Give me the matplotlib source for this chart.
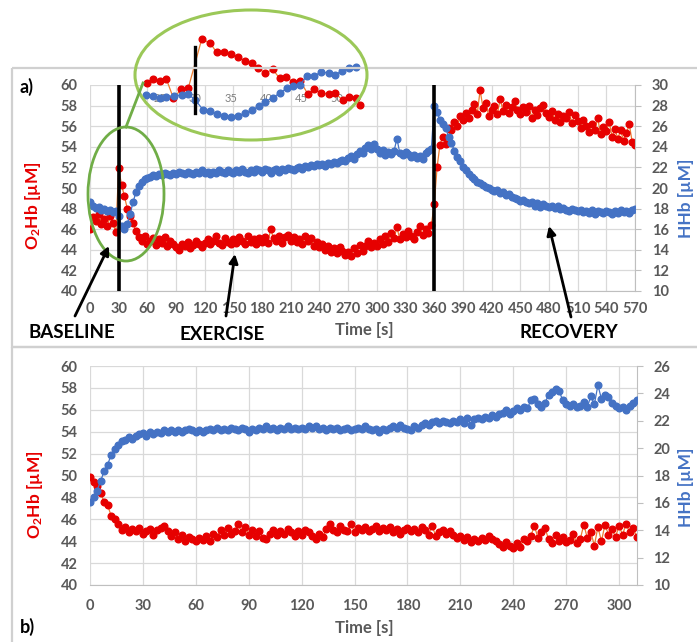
import numpy as np
import matplotlib
matplotlib.use('Agg')
import matplotlib.pyplot as plt
from matplotlib.patches import Ellipse, Rectangle
from matplotlib.lines import Line2D

plt.rcParams['font.family'] = ['Lato', 'DejaVu Sans']
plt.rcParams['font.weight'] = 'bold'
plt.rcParams['mathtext.fontset'] = 'custom'
plt.rcParams['mathtext.rm'] = 'Lato:bold'
plt.rcParams['mathtext.it'] = 'Lato:bold'
plt.rcParams['mathtext.bf'] = 'Lato:bold'
plt.rcParams['mathtext.default'] = 'rm'

# ---------------- data ----------------
# panel a: time every 3 s, 0..570
time_a = np.arange(0, 571, 3)
o2hb_a = [
    46.0, 47.2, 46.8, 47.5, 46.5, 47.0, 46.3, 47.3, 46.6, 45.7,
    51.9, 50.3, 49.2, 48.0, 47.3, 46.6, 45.8, 45.2, 44.9, 45.3,
    44.6, 44.9, 45.1, 44.5, 45.0, 44.7, 45.2, 44.4, 44.9, 44.6,
    44.3, 44.0, 44.6, 44.4, 44.8, 44.2, 44.5, 44.9, 44.6, 44.3,
    44.7, 45.0, 44.6, 44.9, 45.3, 44.7, 44.5, 45.1, 44.8, 44.6,
    45.0, 44.7, 45.2, 44.9, 44.6, 45.3, 44.8, 45.0, 44.6, 45.1,
    44.8, 45.2, 44.7, 46.0, 45.1, 44.9, 45.3, 44.7, 45.2, 45.4,
    44.9, 45.2, 44.8, 45.0, 44.6, 45.3, 44.9, 45.1, 44.4, 44.8,
    44.3, 44.6, 44.0, 44.4, 43.8, 44.2, 43.7, 44.3, 43.9, 43.5,
    43.8, 43.4, 44.2, 43.7, 44.5, 43.9, 44.4, 44.9, 44.3, 44.7,
    44.4, 45.0, 44.6, 45.3, 44.8, 45.6, 45.1, 46.2, 45.0, 45.5,
    45.2, 45.8, 45.3, 45.0, 45.7, 46.3, 45.4, 46.0, 45.6, 46.4,
    48.4, 52.0, 54.2, 55.0, 54.3, 55.8, 55.6, 56.4, 56.0, 57.0,
    56.6, 57.3, 56.8, 57.6, 58.2, 57.2, 59.5, 57.8, 58.3, 57.0,
    57.6, 58.0, 57.2, 58.6, 57.5, 58.1, 57.3, 57.9, 58.4, 57.6,
    57.2, 57.9, 57.4, 58.0, 56.8, 57.6, 57.1, 57.8, 58.1, 57.3,
    56.9, 57.5, 56.6, 57.2, 56.4, 57.0, 56.8, 57.4, 56.3, 57.1,
    56.5, 55.8, 56.6, 56.0, 55.4, 56.2, 55.6, 56.8, 55.2, 55.9,
    55.5, 56.4, 55.0, 55.7, 54.8, 55.6, 54.6, 55.3, 56.2, 54.5,
    54.2,
]
hhb_a = [
    18.6, 18.3, 18.1, 18.2, 17.9, 18.0, 17.8, 17.9, 17.7, 17.8,
    17.3, 16.3, 16.0, 16.5, 17.5, 18.6, 19.6, 20.2, 20.6, 20.9,
    21.0, 21.1, 21.3, 21.2, 21.4, 21.3, 21.5, 21.4, 21.3, 21.5,
    21.4, 21.6, 21.5, 21.4, 21.6, 21.5, 21.4, 21.6, 21.5, 21.7,
    21.5, 21.6, 21.4, 21.6, 21.5, 21.7, 21.6, 21.5, 21.7, 21.6,
    21.5, 21.7, 21.6, 21.8, 21.6, 21.5, 21.7, 21.6, 21.8, 21.7,
    21.6, 21.8, 21.7, 21.5, 21.7, 21.8, 21.6, 21.8, 21.7, 21.9,
    21.8, 21.7, 21.9, 22.0, 21.8, 22.1, 22.0, 22.2, 22.1, 22.3,
    22.2, 22.3, 22.1, 22.4, 22.3, 22.5, 22.4, 22.6, 22.7, 22.6,
    22.9, 23.1, 22.8, 23.3, 23.6, 23.4, 23.9, 24.2, 23.8, 24.3,
    23.8, 23.4, 23.7, 23.2, 23.5, 23.3, 23.6, 24.8, 23.4, 23.2,
    23.5, 23.3, 23.0, 23.2, 22.9, 23.1, 22.8, 23.4, 23.6, 23.8,
    28.0, 27.4, 26.6, 26.2, 25.8, 25.0, 24.4, 23.6, 23.0, 22.6,
    22.0, 21.7, 21.4, 21.1, 20.9, 20.6, 20.5, 20.3, 20.1, 20.0,
    19.8, 19.7, 19.8, 19.5, 19.6, 19.3, 19.4, 19.1, 19.0, 18.9,
    18.7, 18.8, 18.6, 18.5, 18.6, 18.3, 18.5, 18.2, 18.4, 18.3,
    18.2, 18.3, 18.1, 18.3, 18.0, 18.1, 17.9, 17.8, 18.0, 17.9,
    17.8, 17.9, 17.7, 17.8, 17.6, 17.9, 17.5, 17.8, 17.7, 17.6,
    17.8, 17.7, 17.5, 17.8, 17.6, 17.9, 17.7, 17.8, 17.6, 17.9,
    18.0,
]

# panel b: time every 2 s, 0..310
time_b = np.arange(0, 311, 2)
o2hb_b = [
    49.9, 49.4, 49.0, 48.4, 47.6, 47.3, 46.3, 46.0, 45.6, 45.0,
    45.3, 44.8, 45.1, 44.9, 45.2, 44.7, 44.9, 45.1, 44.6, 45.0,
    45.2, 45.4, 44.9, 44.5, 44.8, 44.2, 44.6, 44.0, 44.4, 44.2,
    44.0, 44.3, 44.1, 44.5, 44.0, 44.7, 44.4, 45.0, 44.6, 45.2,
    44.7, 44.9, 45.6, 44.8, 45.3, 44.6, 45.0, 44.5, 44.9, 44.3,
    44.2, 44.7, 45.0, 44.6, 44.9, 44.7, 45.1, 44.8, 44.5, 44.9,
    44.6, 45.0, 44.8, 44.5, 44.2, 44.7, 44.4, 45.1, 45.6, 45.0,
    44.8, 45.4, 45.0, 44.9, 45.6, 44.8, 45.2, 45.0, 45.3, 44.9,
    45.1, 45.4, 44.9, 45.2, 45.0, 45.3, 44.8, 45.1, 44.7, 45.0,
    45.2, 44.9, 45.1, 44.8, 45.3, 45.0, 44.6, 45.4, 44.5, 44.8,
    45.0, 44.7, 44.9, 44.6, 44.3, 44.5, 44.1, 44.4, 43.9, 44.2,
    44.0, 44.3, 44.1, 44.5, 44.2, 44.0, 43.7, 43.5, 43.9, 43.6,
    43.4, 43.8, 43.5, 44.2, 44.0, 44.5, 45.4, 44.3, 44.8, 45.2,
    44.2, 43.8, 44.6, 44.0, 44.4, 43.9, 44.1, 44.7, 43.8, 44.2,
    45.5, 44.3, 44.8, 43.6, 45.3, 44.0, 45.5, 44.6, 45.1, 44.4,
    45.4, 44.6, 45.6, 44.8, 45.2, 44.4,
]
hhb_b = [
    16.1, 16.4, 16.9, 17.6, 18.3, 18.8, 19.5, 19.9, 20.2, 20.5,
    20.6, 20.8, 20.7, 20.9, 21.0, 21.1, 20.9, 21.2, 21.0, 21.2,
    21.1, 21.3, 21.2, 21.3, 21.2, 21.3, 21.2, 21.3, 21.4, 21.3,
    21.2, 21.3, 21.2, 21.3, 21.4, 21.3, 21.5, 21.3, 21.4, 21.3,
    21.5, 21.4, 21.3, 21.5, 21.4, 21.2, 21.4, 21.3, 21.5, 21.4,
    21.6, 21.4, 21.5, 21.3, 21.5, 21.4, 21.6, 21.4, 21.5, 21.4,
    21.5, 21.4, 21.6, 21.5, 21.6, 21.4, 21.5, 21.3, 21.5, 21.4,
    21.5, 21.3, 21.4, 21.5, 21.3, 21.4, 21.5, 21.4, 21.6, 21.4,
    21.3, 21.4, 21.2, 21.4, 21.3, 21.5, 21.6, 21.5, 21.7, 21.5,
    21.4, 21.3, 21.6, 21.5, 21.7, 21.8, 21.7, 21.9, 22.0, 21.8,
    22.0, 21.9, 21.8, 22.0, 21.9, 22.1, 21.8, 22.2, 21.7, 22.1,
    22.2, 22.1, 22.3, 22.2, 22.4, 22.3, 22.5, 22.6, 22.8, 22.5,
    22.7, 22.9, 22.8, 23.0, 22.9, 23.5, 23.6, 23.2, 23.0, 23.3,
    23.9, 24.1, 24.3, 24.2, 23.5, 23.2, 23.1, 23.2, 23.0, 23.1,
    23.4, 23.0, 23.8, 23.2, 24.6, 23.6, 23.9, 23.7, 23.3, 23.1,
    22.9, 23.0, 22.8, 23.1, 23.3, 23.5,
]

# zoomed inset (25-52 s)
inset_t_red = [23.1, 24.0, 25.0, 25.9, 26.9, 28.0, 29.0, 30.9, 32.1, 33.0,
               34.0, 35.0, 36.0, 37.0, 38.0, 38.9, 39.9, 40.9, 41.9, 42.8,
               43.8, 44.8, 45.9, 46.8, 47.8, 48.8, 49.7, 50.8, 51.7, 52.7, 53.3]
inset_o2hb = [46.41, 46.88, 46.63, 46.88, 44.42, 45.57, 45.73, 52.0, 51.45, 50.30,
              50.30, 50.04, 49.74, 49.19, 48.89, 48.25, 47.61, 48.13, 46.97, 47.10,
              46.54, 46.63, 44.93, 45.57, 45.06, 44.97, 45.06, 44.20, 44.62, 44.42, 43.56]
inset_t_blue = [23.0, 24.0, 25.0, 25.9, 27.0, 28.1, 29.0, 30.0, 31.1, 32.1,
                33.0, 34.0, 35.0, 36.0, 37.0, 38.0, 39.0, 39.9, 40.9, 41.9,
                42.9, 43.8, 44.8, 45.7, 46.8, 47.8, 48.8, 49.7, 50.7, 51.7, 52.7]
inset_hhb = [18.0, 17.93, 17.69, 17.84, 17.90, 18.0, 18.07, 17.52, 16.57, 16.48,
             16.16, 16.03, 15.93, 16.03, 16.26, 16.57, 16.95, 17.36, 17.74, 18.16,
             18.64, 18.86, 18.95, 19.81, 19.81, 20.22, 20.07, 19.90, 20.31, 20.60, 20.70]
inset_ticks = [25, 30, 35, 40, 45, 50]

xticks_a = list(range(0, 571, 30))
xticks_b = list(range(0, 301, 30))
yticks_left = list(range(40, 61, 2))
yticks_right_a = list(range(10, 31, 2))
yticks_right_b = list(range(10, 27, 2))
event_times = [30, 360]

# ---------------- styling ----------------
RED = '#E60000'
ORANGE = '#ED7D31'
BLUE = '#4472C4'
GRID = '#D9D9D9'
TICK = '#595959'
MS = 4.8

W, H = 697, 642
fig = plt.figure(figsize=(W / 100, H / 100), dpi=100)
fig.patch.set_facecolor('white')


def rect(l, t, r, b):
    return [l / W, 1 - b / H, (r - l) / W, (b - t) / H]


def style(ax, ax2, xlim, xticks, yr, yrt, xpad):
    ax.set_xlim(*xlim)
    ax.set_ylim(40, 60)
    ax2.set_ylim(*yr)
    ax.set_xticks(xticks)
    ax.set_yticks(yticks_left)
    ax2.set_yticks(yrt)
    ax.grid(True, color=GRID, lw=0.9)
    ax.set_axisbelow(True)
    for s in ['top', 'left', 'right']:
        ax.spines[s].set_visible(False)
        ax2.spines[s if s != 'right' else 'bottom'].set_visible(False)
    ax.spines['bottom'].set_color('#BFBFBF')
    ax2.spines['right'].set_color('#BFBFBF')
    ax.tick_params(axis='both', length=0, labelsize=10.5, labelcolor=TICK)
    ax.tick_params(axis='x', pad=xpad)
    ax.tick_params(axis='y', pad=9)
    ax2.tick_params(axis='y', length=4, color='#BFBFBF', pad=8,
                    labelsize=10.5, labelcolor=TICK)


def plot_series(ax, ax2, t, red, blue):
    ax.plot(t, red, color=ORANGE, lw=0.9, marker='o', ms=MS,
            mfc=RED, mec=RED, zorder=3)
    ax2.plot(t, blue, color=BLUE, lw=0.9, marker='o', ms=MS,
             mfc=BLUE, mec=BLUE, zorder=3)


# panel a
axa = fig.add_axes(rect(90, 85, 635, 291))
axa2 = axa.twinx()
style(axa, axa2, (0, 570), xticks_a, (10, 30), yticks_right_a, 8)
plot_series(axa, axa2, time_a, o2hb_a, hhb_a)
for et in event_times:
    axa2.axvline(et, color='black', lw=2.6, zorder=6)

# panel b
axb = fig.add_axes(rect(90, 366, 636.7, 585))
axb2 = axb.twinx()
style(axb, axb2, (0, 310), xticks_b, (10, 26), yticks_right_b, 10)
plot_series(axb, axb2, time_b, o2hb_b, hhb_b)

# inset
ins = fig.add_axes(rect(140, 20, 365, 125))
ins.set_zorder(7)
ins.patch.set_alpha(0)
ins2 = ins.twinx()
ins2.set_zorder(8)
ins2.patch.set_alpha(0)
for a in (ins, ins2):
    a.set_xlim(22.18, 53.95)
    a.axis('off')
ins.set_ylim(41.0, 54.43)
ins2.set_ylim(15.14, 25.14)
for tk in inset_ticks:
    ins.text(tk, 0.257, str(tk), transform=ins.get_xaxis_transform(),
             ha='center', va='center', fontsize=8, fontweight='normal',
             color='#7F7F7F', zorder=1)
ins.plot(inset_t_red, inset_o2hb, color=ORANGE, lw=0.9, marker='o', ms=MS,
         mfc=RED, mec=RED, zorder=3)
ins2.plot(inset_t_blue, inset_hhb, color=BLUE, lw=0.9, marker='o', ms=MS,
          mfc=BLUE, mec=BLUE, zorder=3)
ins2.axvline(30, ymin=0.114, ymax=0.743, color='black', lw=2.4, zorder=6)

# overlay in pixel coordinates
ov = fig.add_axes([0, 0, 1, 1])
ov.set_xlim(0, W)
ov.set_ylim(H, 0)
ov.axis('off')
ov.set_zorder(10)
ov.patch.set_alpha(0)

ov.add_patch(Rectangle((12, 68), 700, 279, fill=False, ec='#D0D0D0', lw=1.6))
ov.add_patch(Rectangle((12, 347), 700, 310, fill=False, ec='#D0D0D0', lw=1.6))

ov.add_patch(Ellipse((251, 75), 232, 130, fill=False, ec='#9BC858', lw=2.2))
ov.add_patch(Ellipse((126, 194), 76, 134, fill=False, ec='#70AD47', lw=2.0))
ov.add_line(Line2D([126, 143], [127, 83], color='#70AD47', lw=2.0))

arrow_kw = dict(arrowstyle='-|>', color='black', lw=2.0, mutation_scale=13,
                shrinkA=0, shrinkB=0)
ov.annotate('', xy=(109, 246), xytext=(75, 316), arrowprops=arrow_kw)
ov.annotate('', xy=(235, 254), xytext=(226, 316), arrowprops=arrow_kw)
ov.annotate('', xy=(549, 226), xytext=(571, 317), arrowprops=arrow_kw)

ov.text(72, 333, 'BASELINE', ha='center', va='center', fontsize=13.5, color='black')
ov.text(222, 334, 'EXERCISE', ha='center', va='center', fontsize=13.5, color='black')
ov.text(569, 333, 'RECOVERY', ha='center', va='center', fontsize=13.5, color='black')

ov.text(27, 87, 'a)', ha='center', va='center', fontsize=13, color='black')
ov.text(27, 627, 'b)', ha='center', va='center', fontsize=13, color='black')

ov.text(364, 330, 'Time [s]', ha='center', va='center', fontsize=12, color=TICK)
ov.text(364, 628, 'Time [s]', ha='center', va='center', fontsize=12, color=TICK)

ov.text(33, 206, 'O$_2$Hb [µM]', rotation=90, ha='center', va='center',
        fontsize=12.5, color=RED)
ov.text(35, 495, 'O$_2$Hb [µM]', rotation=90, ha='center', va='center',
        fontsize=12.5, color=RED)
ov.text(686, 198, 'HHb [µM]', rotation=90, ha='center', va='center',
        fontsize=12.5, color=BLUE)
ov.text(686, 487, 'HHb [µM]', rotation=90, ha='center', va='center',
        fontsize=12.5, color=BLUE)

fig.savefig('out.png', dpi=100)
